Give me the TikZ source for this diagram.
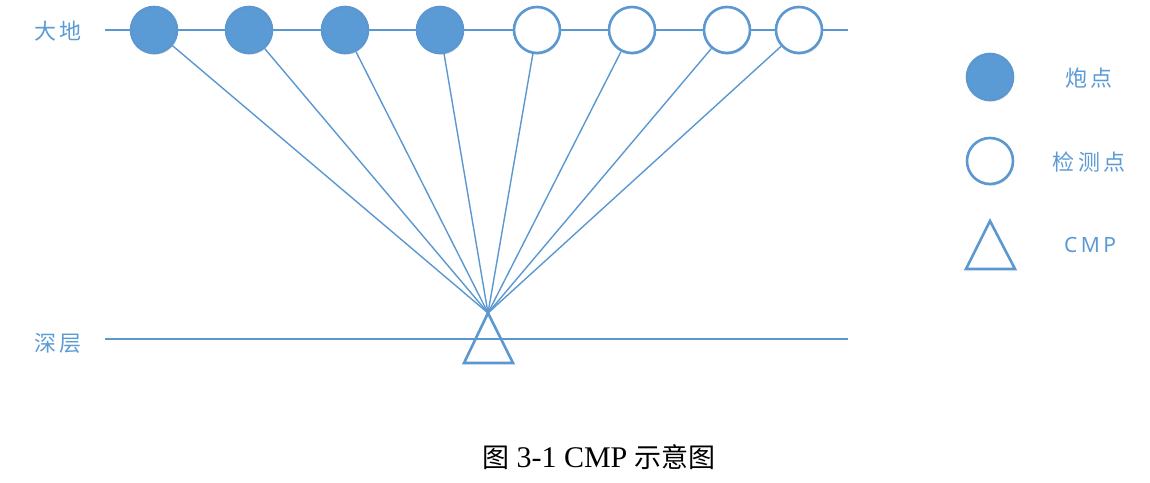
\documentclass[tikz,border=0pt]{standalone}
\usepackage{fontspec}
\setmainfont{Liberation Serif}
\newfontfamily\cjk{Noto Sans CJK SC}
\newfontfamily\cjklat{Noto Sans}
\usetikzlibrary{calc,shadows}
\definecolor{cblue}{HTML}{5B9BD5}
\definecolor{cline}{HTML}{5B97D0}
\tikzset{
  softshadow/.style={drop shadow={shadow xshift=0.8pt,shadow yshift=-1.8pt,opacity=0.18,fill=black!60}},
  shot/.style={circle,draw=cline,fill=cblue,line width=2.6pt,minimum size=46pt,inner sep=0pt,softshadow},
  recv/.style={circle,draw=cline,fill=white,line width=2.6pt,minimum size=46pt,inner sep=0pt,softshadow},
  ray/.style={draw=cline,line width=1.4pt},
  ground/.style={draw=cline,line width=2.8pt},
  tri/.style={draw=cline,line width=2.6pt,line join=miter},
  lbl/.style={text=cblue,font=\cjk\fontsize{22}{26}\selectfont,inner sep=0pt},
}
\begin{document}
\begin{tikzpicture}[x=1pt,y=-1pt]
\useasboundingbox (0,0) rectangle (1150,482);
% ground lines
\coordinate (gl) at (105,30);
\coordinate (gr) at (848,30);
\coordinate (dl) at (105,339);
\coordinate (dr) at (848,339);
\draw[ground] (gl) -- (gr);
\draw[ground] (dl) -- (dr);
% triangle
\coordinate (apex) at (488,313);
\coordinate (bl) at (464,363);
\coordinate (br) at (513,363);
\draw[tri] (apex) -- (bl) -- (br) -- cycle;
% sources and receivers
\node[shot] (s1) at (154,30) {};
\node[shot] (s2) at (249,30) {};
\node[shot] (s3) at (345,30) {};
\node[shot] (s4) at (440,30) {};
\node[recv] (r1) at (537,30) {};
\node[recv] (r2) at (632,30) {};
\node[recv] (r3) at (727,30) {};
\node[recv] (r4) at (799,30) {};
\foreach \n in {s1,s2,s3,s4,r1,r2,r3,r4}{
  \draw[ray] (\n) -- (apex);
}
% labels
\node[lbl] (tdadi) at (58,31) {大\,地};
\node[lbl] (tshen) at (58,343) {深\,层};
% legend
\node[shot] (lg1) at (990,77) {};
\node[recv] (lg2) at (990,161) {};
\coordinate (la) at (990,221);
\coordinate (lb) at (966,269);
\coordinate (lc) at (1015,269);
\draw[tri] (la) -- (lb) -- (lc) -- cycle;
\node[lbl] (t1) at (1089,78) {炮\,点};
\node[lbl] (t2) at (1089,162) {检\,测\,点};
\node[lbl,font=\cjklat\fontsize{21}{26}\selectfont] (t3) at (1090,245) {C\,M\,P};
% caption
\node[inner sep=0pt,font=\fontsize{30}{34}\selectfont] (cap) at (599,457) {{\cjk\fontsize{27}{34}\selectfont 图} 3-1 CMP {\cjk\fontsize{27}{34}\selectfont 示意图}};
\end{tikzpicture}
\end{document}
